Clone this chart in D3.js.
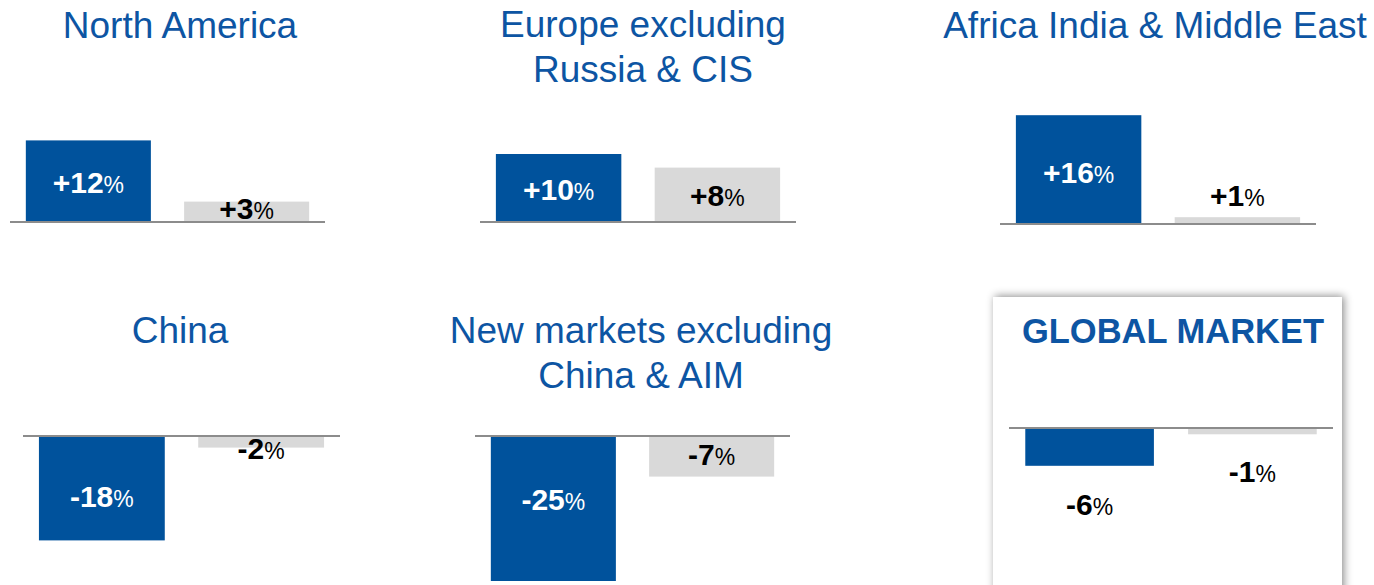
<!DOCTYPE html>
<html>
<head>
<meta charset="utf-8">
<script src="https://cdn.jsdelivr.net/npm/d3@7"></script>
<style>
  body { margin: 0; background: #fff; }
  text { font-family: "Liberation Sans", Arial, sans-serif; }
</style>
</head>
<body>
<div id="chart"></div>
<script>
// data
var regions = ["North America", "Europe excluding|Russia & CIS", "Africa India & Middle East",
               "China", "New markets excluding|China & AIM", "GLOBAL MARKET"];
var series = ["current", "previous"];
var currentGrowth = [12, 10, 16, -18, -25, -6];
var previousGrowth = [3, 8, 1, -2, -7, -1];

// layout for each panel (pixels)
var panels = [
  {x0: 10,   x1: 325,  base: 222, ppu: 6.8, tx: 180,  ty: 38,  dy: [12, 7.5]},
  {x0: 480,  x1: 796,  base: 222, ppu: 6.8, tx: 643,  ty: 37,  dy: [12, 11]},
  {x0: 1000, x1: 1316, base: 224, ppu: 6.8, tx: 1155, ty: 38,  dy: [13.5, -15]},
  {x0: 23,   x1: 340,  base: 436, ppu: 5.8, tx: 180,  ty: 343, dy: [18.5, 17]},
  {x0: 475,  x1: 790,  base: 436, ppu: 5.8, tx: 641,  ty: 343, dy: [1, 8.5]},
  {x0: 1009, x1: 1333, base: 428, ppu: 6.3, tx: 1173, ty: 343, dy: [68, 51]}
];

var blue = "#00529c";
var grey = "#d9d9d9";

var svg = d3.select("#chart")
  .append("svg")
    .attr("width", 1374)
    .attr("height", 585);

var defs = svg.append("defs");
defs.append("filter")
    .attr("id", "shadow")
    .attr("x", "-10%").attr("y", "-10%")
    .attr("width", "120%").attr("height", "120%")
  .append("feDropShadow")
    .attr("dx", 2).attr("dy", -1)
    .attr("stdDeviation", 4)
    .attr("flood-color", "#000")
    .attr("flood-opacity", 0.45);

// global market box
svg.append("rect")
    .attr("x", 993)
    .attr("y", 297)
    .attr("width", 349)
    .attr("height", 320)
    .attr("fill", "#fff")
    .attr("filter", "url(#shadow)");

var fmt = function(v) { return (v > 0 ? "+" : "-") + Math.abs(v); };

panels.forEach(function(p, i) {
  var g = svg.append("g");
  var values = [currentGrowth[i], previousGrowth[i]];

  var x = d3.scaleBand()
    .domain(series)
    .range([p.x0, p.x1])
    .paddingInner(0.21)
    .paddingOuter(0.1);

  var y = d3.scaleLinear()
    .domain([0, 10])
    .range([p.base, p.base - 10 * p.ppu]);

  // title
  var isGlobal = i === 5;
  var lines = regions[i].split("|");
  var title = g.append("text")
      .attr("text-anchor", "middle")
      .attr("fill", "#0d55a3")
      .attr("font-size", isGlobal ? 34.5 : 37)
      .attr("font-weight", isGlobal ? "bold" : "normal");
  lines.forEach(function(l, k) {
    title.append("tspan")
      .attr("x", p.tx)
      .attr("y", p.ty + k * 44.5)
      .text(l);
  });

  // bars
  g.selectAll("rect")
    .data(values)
    .enter()
    .append("rect")
      .attr("x", function(d, k) { return x(series[k]); })
      .attr("width", x.bandwidth())
      .attr("y", function(d) { return Math.min(y(d), y(0)); })
      .attr("height", function(d) { return Math.abs(y(d) - y(0)); })
      .attr("fill", function(d, k) { return k === 0 ? blue : grey; });

  // baseline
  g.append("line")
    .attr("x1", p.x0)
    .attr("x2", p.x1)
    .attr("y1", y(0))
    .attr("y2", y(0))
    .attr("stroke", "#8c8c8c")
    .attr("stroke-width", 2);

  // value labels
  values.forEach(function(v, k) {
    var mid = (y(v) + y(0)) / 2;
    var inside = k === 0 && !isGlobal;
    var t = g.append("text")
      .attr("x", x(series[k]) + x.bandwidth() / 2)
      .attr("y", mid + p.dy[k])
      .attr("text-anchor", "middle")
      .attr("fill", inside ? "#fff" : "#000");
    t.append("tspan")
      .attr("font-size", 30)
      .attr("font-weight", "bold")
      .text(fmt(v));
    t.append("tspan")
      .attr("font-size", 23)
      .text("%");
  });
});
</script>
</body>
</html>
